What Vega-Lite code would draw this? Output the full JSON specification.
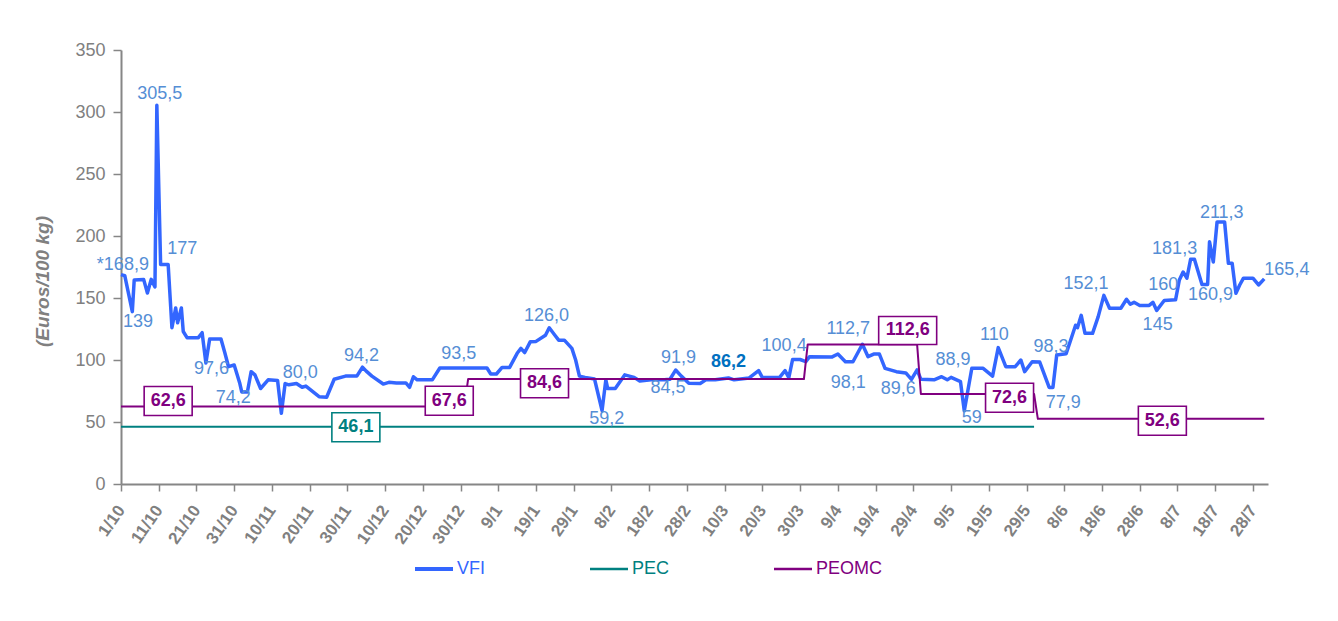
{
  "$schema": "https://vega.github.io/schema/vega-lite/v6.json",
  "width": 1147,
  "height": 434,
  "autosize": {"type": "none"},
  "padding": {"left": 121, "top": 50, "right": 70, "bottom": 137},
  "background": "white",
  "config": {"view": {"stroke": null}, "font": "Liberation Sans"},
  "datasets": {
    "lines": [
      {"date": "2008/10/01", "value": 168.9, "series": "VFI"},
      {"date": "2008/10/02", "value": 168, "series": "VFI"},
      {"date": "2008/10/04", "value": 139, "series": "VFI"},
      {"date": "2008/10/04 12:00", "value": 164.5, "series": "VFI"},
      {"date": "2008/10/07", "value": 165, "series": "VFI"},
      {"date": "2008/10/08", "value": 154, "series": "VFI"},
      {"date": "2008/10/09", "value": 165, "series": "VFI"},
      {"date": "2008/10/10", "value": 159, "series": "VFI"},
      {"date": "2008/10/10 12:00", "value": 305.5, "series": "VFI"},
      {"date": "2008/10/11 12:00", "value": 177, "series": "VFI"},
      {"date": "2008/10/13 12:00", "value": 177, "series": "VFI"},
      {"date": "2008/10/14 12:00", "value": 126, "series": "VFI"},
      {"date": "2008/10/15 12:00", "value": 142, "series": "VFI"},
      {"date": "2008/10/16", "value": 130, "series": "VFI"},
      {"date": "2008/10/17", "value": 142, "series": "VFI"},
      {"date": "2008/10/17 12:00", "value": 123, "series": "VFI"},
      {"date": "2008/10/18 12:00", "value": 118, "series": "VFI"},
      {"date": "2008/10/21 12:00", "value": 118, "series": "VFI"},
      {"date": "2008/10/22 12:00", "value": 122, "series": "VFI"},
      {"date": "2008/10/23 12:00", "value": 97.6, "series": "VFI"},
      {"date": "2008/10/24 12:00", "value": 117, "series": "VFI"},
      {"date": "2008/10/27 12:00", "value": 117, "series": "VFI"},
      {"date": "2008/10/28 12:00", "value": 106, "series": "VFI"},
      {"date": "2008/10/29 12:00", "value": 94.6, "series": "VFI"},
      {"date": "2008/10/31", "value": 96, "series": "VFI"},
      {"date": "2008/11/01 12:00", "value": 81, "series": "VFI"},
      {"date": "2008/11/02", "value": 74.2, "series": "VFI"},
      {"date": "2008/11/03 12:00", "value": 74.2, "series": "VFI"},
      {"date": "2008/11/04 12:00", "value": 90.6, "series": "VFI"},
      {"date": "2008/11/05 12:00", "value": 88, "series": "VFI"},
      {"date": "2008/11/07", "value": 77, "series": "VFI"},
      {"date": "2008/11/09", "value": 84, "series": "VFI"},
      {"date": "2008/11/11 12:00", "value": 83.5, "series": "VFI"},
      {"date": "2008/11/12 12:00", "value": 57, "series": "VFI"},
      {"date": "2008/11/13 12:00", "value": 81, "series": "VFI"},
      {"date": "2008/11/14 12:00", "value": 80, "series": "VFI"},
      {"date": "2008/11/16 12:00", "value": 81, "series": "VFI"},
      {"date": "2008/11/18", "value": 78, "series": "VFI"},
      {"date": "2008/11/19", "value": 79, "series": "VFI"},
      {"date": "2008/11/22 12:00", "value": 70.4, "series": "VFI"},
      {"date": "2008/11/24 12:00", "value": 70, "series": "VFI"},
      {"date": "2008/11/26 12:00", "value": 84.5, "series": "VFI"},
      {"date": "2008/11/29 12:00", "value": 87, "series": "VFI"},
      {"date": "2008/12/02 12:00", "value": 87, "series": "VFI"},
      {"date": "2008/12/04", "value": 94.2, "series": "VFI"},
      {"date": "2008/12/05", "value": 91, "series": "VFI"},
      {"date": "2008/12/06 12:00", "value": 87, "series": "VFI"},
      {"date": "2008/12/09 12:00", "value": 80.6, "series": "VFI"},
      {"date": "2008/12/11", "value": 82, "series": "VFI"},
      {"date": "2008/12/13", "value": 81.5, "series": "VFI"},
      {"date": "2008/12/15 12:00", "value": 81.5, "series": "VFI"},
      {"date": "2008/12/16 12:00", "value": 78, "series": "VFI"},
      {"date": "2008/12/17 12:00", "value": 86.5, "series": "VFI"},
      {"date": "2008/12/18 12:00", "value": 84, "series": "VFI"},
      {"date": "2008/12/22 12:00", "value": 84, "series": "VFI"},
      {"date": "2008/12/24 12:00", "value": 93.5, "series": "VFI"},
      {"date": "2009/01/06", "value": 93.5, "series": "VFI"},
      {"date": "2009/01/07", "value": 88.7, "series": "VFI"},
      {"date": "2009/01/08 12:00", "value": 88.7, "series": "VFI"},
      {"date": "2009/01/10", "value": 94, "series": "VFI"},
      {"date": "2009/01/12", "value": 94, "series": "VFI"},
      {"date": "2009/01/14", "value": 105.4, "series": "VFI"},
      {"date": "2009/01/15", "value": 109.4, "series": "VFI"},
      {"date": "2009/01/16", "value": 106, "series": "VFI"},
      {"date": "2009/01/17 12:00", "value": 114.8, "series": "VFI"},
      {"date": "2009/01/19", "value": 115, "series": "VFI"},
      {"date": "2009/01/21 12:00", "value": 120, "series": "VFI"},
      {"date": "2009/01/22 12:00", "value": 126, "series": "VFI"},
      {"date": "2009/01/24", "value": 120, "series": "VFI"},
      {"date": "2009/01/25", "value": 116, "series": "VFI"},
      {"date": "2009/01/26 12:00", "value": 116, "series": "VFI"},
      {"date": "2009/01/28 12:00", "value": 109.4, "series": "VFI"},
      {"date": "2009/01/29 12:00", "value": 100, "series": "VFI"},
      {"date": "2009/01/30 12:00", "value": 87, "series": "VFI"},
      {"date": "2009/02/01", "value": 86, "series": "VFI"},
      {"date": "2009/02/03 12:00", "value": 84.7, "series": "VFI"},
      {"date": "2009/02/05 12:00", "value": 59.2, "series": "VFI"},
      {"date": "2009/02/06 12:00", "value": 84, "series": "VFI"},
      {"date": "2009/02/07", "value": 77, "series": "VFI"},
      {"date": "2009/02/09", "value": 77, "series": "VFI"},
      {"date": "2009/02/11 12:00", "value": 88, "series": "VFI"},
      {"date": "2009/02/14", "value": 86, "series": "VFI"},
      {"date": "2009/02/15 12:00", "value": 83, "series": "VFI"},
      {"date": "2009/02/18 12:00", "value": 84, "series": "VFI"},
      {"date": "2009/02/22", "value": 84, "series": "VFI"},
      {"date": "2009/02/23 12:00", "value": 84.5, "series": "VFI"},
      {"date": "2009/02/25", "value": 91.9, "series": "VFI"},
      {"date": "2009/02/26 12:00", "value": 87, "series": "VFI"},
      {"date": "2009/02/28 12:00", "value": 81.2, "series": "VFI"},
      {"date": "2009/03/03 12:00", "value": 81, "series": "VFI"},
      {"date": "2009/03/05", "value": 84, "series": "VFI"},
      {"date": "2009/03/07 12:00", "value": 84, "series": "VFI"},
      {"date": "2009/03/11", "value": 85.5, "series": "VFI"},
      {"date": "2009/03/12 12:00", "value": 84, "series": "VFI"},
      {"date": "2009/03/16 12:00", "value": 85.5, "series": "VFI"},
      {"date": "2009/03/19", "value": 91.4, "series": "VFI"},
      {"date": "2009/03/20", "value": 85.8, "series": "VFI"},
      {"date": "2009/03/24 12:00", "value": 85.8, "series": "VFI"},
      {"date": "2009/03/26", "value": 91.4, "series": "VFI"},
      {"date": "2009/03/27", "value": 85.8, "series": "VFI"},
      {"date": "2009/03/28", "value": 100.4, "series": "VFI"},
      {"date": "2009/03/30", "value": 100.4, "series": "VFI"},
      {"date": "2009/03/31 12:00", "value": 98.7, "series": "VFI"},
      {"date": "2009/04/01 12:00", "value": 102.7, "series": "VFI"},
      {"date": "2009/04/07 12:00", "value": 102.5, "series": "VFI"},
      {"date": "2009/04/09", "value": 104.8, "series": "VFI"},
      {"date": "2009/04/11", "value": 98.6, "series": "VFI"},
      {"date": "2009/04/13", "value": 98.6, "series": "VFI"},
      {"date": "2009/04/15 12:00", "value": 112.7, "series": "VFI"},
      {"date": "2009/04/17", "value": 102.7, "series": "VFI"},
      {"date": "2009/04/18 12:00", "value": 104.8, "series": "VFI"},
      {"date": "2009/04/20", "value": 104.8, "series": "VFI"},
      {"date": "2009/04/21 12:00", "value": 93.3, "series": "VFI"},
      {"date": "2009/04/24 12:00", "value": 90.6, "series": "VFI"},
      {"date": "2009/04/27", "value": 89.6, "series": "VFI"},
      {"date": "2009/04/28 12:00", "value": 84.4, "series": "VFI"},
      {"date": "2009/04/30", "value": 92, "series": "VFI"},
      {"date": "2009/05/01", "value": 84.4, "series": "VFI"},
      {"date": "2009/05/04 12:00", "value": 84, "series": "VFI"},
      {"date": "2009/05/06 12:00", "value": 86.5, "series": "VFI"},
      {"date": "2009/05/08", "value": 84, "series": "VFI"},
      {"date": "2009/05/09", "value": 86, "series": "VFI"},
      {"date": "2009/05/11 12:00", "value": 82.5, "series": "VFI"},
      {"date": "2009/05/12 12:00", "value": 59, "series": "VFI"},
      {"date": "2009/05/14 12:00", "value": 93.3, "series": "VFI"},
      {"date": "2009/05/17 12:00", "value": 93.3, "series": "VFI"},
      {"date": "2009/05/20", "value": 87, "series": "VFI"},
      {"date": "2009/05/21 12:00", "value": 110, "series": "VFI"},
      {"date": "2009/05/23 12:00", "value": 94.6, "series": "VFI"},
      {"date": "2009/05/26", "value": 94.6, "series": "VFI"},
      {"date": "2009/05/27 12:00", "value": 100, "series": "VFI"},
      {"date": "2009/05/28 12:00", "value": 90.6, "series": "VFI"},
      {"date": "2009/05/30 12:00", "value": 98.6, "series": "VFI"},
      {"date": "2009/06/01 12:00", "value": 98.3, "series": "VFI"},
      {"date": "2009/06/04", "value": 77.9, "series": "VFI"},
      {"date": "2009/06/05", "value": 77.9, "series": "VFI"},
      {"date": "2009/06/06", "value": 104, "series": "VFI"},
      {"date": "2009/06/08 12:00", "value": 105, "series": "VFI"},
      {"date": "2009/06/11", "value": 128, "series": "VFI"},
      {"date": "2009/06/11 12:00", "value": 126, "series": "VFI"},
      {"date": "2009/06/12 12:00", "value": 136, "series": "VFI"},
      {"date": "2009/06/13 12:00", "value": 121.5, "series": "VFI"},
      {"date": "2009/06/15 12:00", "value": 121.5, "series": "VFI"},
      {"date": "2009/06/17", "value": 135, "series": "VFI"},
      {"date": "2009/06/18 12:00", "value": 152.1, "series": "VFI"},
      {"date": "2009/06/20", "value": 141.7, "series": "VFI"},
      {"date": "2009/06/23", "value": 141.7, "series": "VFI"},
      {"date": "2009/06/24 12:00", "value": 149, "series": "VFI"},
      {"date": "2009/06/25 12:00", "value": 145, "series": "VFI"},
      {"date": "2009/06/26 12:00", "value": 146.5, "series": "VFI"},
      {"date": "2009/06/28", "value": 144, "series": "VFI"},
      {"date": "2009/06/30 12:00", "value": 144, "series": "VFI"},
      {"date": "2009/07/01 12:00", "value": 146.5, "series": "VFI"},
      {"date": "2009/07/02 12:00", "value": 140, "series": "VFI"},
      {"date": "2009/07/04 12:00", "value": 148, "series": "VFI"},
      {"date": "2009/07/07 12:00", "value": 148.5, "series": "VFI"},
      {"date": "2009/07/08 12:00", "value": 164.5, "series": "VFI"},
      {"date": "2009/07/09 12:00", "value": 171, "series": "VFI"},
      {"date": "2009/07/10 12:00", "value": 166, "series": "VFI"},
      {"date": "2009/07/11 12:00", "value": 181.3, "series": "VFI"},
      {"date": "2009/07/12 12:00", "value": 181.3, "series": "VFI"},
      {"date": "2009/07/14 12:00", "value": 160.9, "series": "VFI"},
      {"date": "2009/07/16", "value": 160.9, "series": "VFI"},
      {"date": "2009/07/16 12:00", "value": 195.4, "series": "VFI"},
      {"date": "2009/07/17 12:00", "value": 179, "series": "VFI"},
      {"date": "2009/07/18 12:00", "value": 211.3, "series": "VFI"},
      {"date": "2009/07/20 12:00", "value": 211.3, "series": "VFI"},
      {"date": "2009/07/21 12:00", "value": 178, "series": "VFI"},
      {"date": "2009/07/22 12:00", "value": 178, "series": "VFI"},
      {"date": "2009/07/23 12:00", "value": 153.8, "series": "VFI"},
      {"date": "2009/07/24 12:00", "value": 160.5, "series": "VFI"},
      {"date": "2009/07/25 12:00", "value": 166, "series": "VFI"},
      {"date": "2009/07/28", "value": 166, "series": "VFI"},
      {"date": "2009/07/29 12:00", "value": 160.5, "series": "VFI"},
      {"date": "2009/07/31", "value": 165.4, "series": "VFI"},
      {"date": "2008/10/01", "value": 46.1, "series": "PEC"},
      {"date": "2009/05/31", "value": 46.1, "series": "PEC"},
      {"date": "2008/10/01", "value": 62.6, "series": "PEOMC"},
      {"date": "2008/12/31", "value": 62.6, "series": "PEOMC"},
      {"date": "2009/01/01", "value": 84.6, "series": "PEOMC"},
      {"date": "2009/03/31", "value": 84.6, "series": "PEOMC"},
      {"date": "2009/04/01", "value": 112.6, "series": "PEOMC"},
      {"date": "2009/04/30", "value": 112.6, "series": "PEOMC"},
      {"date": "2009/05/01", "value": 72.6, "series": "PEOMC"},
      {"date": "2009/05/31", "value": 72.6, "series": "PEOMC"},
      {"date": "2009/06/01", "value": 52.6, "series": "PEOMC"},
      {"date": "2009/07/31", "value": 52.6, "series": "PEOMC"}
    ],
    "labels": [
      {"date": "2008/10/01 12:00", "value": 176.6, "label": "*168,9", "series": "VFI"},
      {"date": "2008/10/11 06:00", "value": 314.5, "label": "305,5", "series": "VFI"},
      {"date": "2008/10/17 06:00", "value": 189.5, "label": "177", "series": "VFI"},
      {"date": "2008/10/05 12:00", "value": 131, "label": "139", "series": "VFI"},
      {"date": "2008/10/25", "value": 92.7, "label": "97,6", "series": "VFI"},
      {"date": "2008/10/30 18:00", "value": 69.3, "label": "74,2", "series": "VFI"},
      {"date": "2008/11/17 12:00", "value": 89.3, "label": "80,0", "series": "VFI"},
      {"date": "2008/12/03 18:00", "value": 103, "label": "94,2", "series": "VFI"},
      {"date": "2008/12/29 12:00", "value": 104.8, "label": "93,5", "series": "VFI"},
      {"date": "2009/01/21 18:00", "value": 135.5, "label": "126,0", "series": "VFI"},
      {"date": "2009/02/06 18:00", "value": 52.4, "label": "59,2", "series": "VFI"},
      {"date": "2009/02/25 18:00", "value": 102, "label": "91,9", "series": "VFI"},
      {"date": "2009/02/23", "value": 77.2, "label": "84,5", "series": "VFI"},
      {"date": "2009/03/11", "value": 98, "label": "86,2", "series": "VFI"},
      {"date": "2009/03/25 18:00", "value": 111.5, "label": "100,4", "series": "VFI"},
      {"date": "2009/04/11 18:00", "value": 124.8, "label": "112,7", "series": "VFI"},
      {"date": "2009/04/11 18:00", "value": 81.2, "label": "98,1", "series": "VFI"},
      {"date": "2009/04/25", "value": 76.5, "label": "89,6", "series": "VFI"},
      {"date": "2009/05/09 12:00", "value": 100, "label": "88,9", "series": "VFI"},
      {"date": "2009/05/14 12:00", "value": 53.6, "label": "59", "series": "VFI"},
      {"date": "2009/05/20 12:00", "value": 120.2, "label": "110", "series": "VFI"},
      {"date": "2009/06/04 12:00", "value": 110.5, "label": "98,3", "series": "VFI"},
      {"date": "2009/06/07 18:00", "value": 65.7, "label": "77,9", "series": "VFI"},
      {"date": "2009/06/13 18:00", "value": 161.1, "label": "152,1", "series": "VFI"},
      {"date": "2009/07/02 18:00", "value": 128.6, "label": "145", "series": "VFI"},
      {"date": "2009/07/04 06:00", "value": 160.5, "label": "160", "series": "VFI"},
      {"date": "2009/07/07 06:00", "value": 189.4, "label": "181,3", "series": "VFI"},
      {"date": "2009/07/16 18:00", "value": 152.2, "label": "160,9", "series": "VFI"},
      {"date": "2009/07/19 18:00", "value": 218.5, "label": "211,3", "series": "VFI"},
      {"date": "2009/08/06", "value": 172.6, "label": "165,4", "series": "VFI"},
      {"date": "2008/10/13 12:00", "value": 66.9, "label": "62,6", "series": "PEOMC"},
      {"date": "2008/12/27", "value": 67.1, "label": "67,6", "series": "PEOMC"},
      {"date": "2009/01/21 06:00", "value": 81.2, "label": "84,6", "series": "PEOMC"},
      {"date": "2009/04/27 12:00", "value": 123.8, "label": "112,6", "series": "PEOMC"},
      {"date": "2009/05/24 12:00", "value": 69.5, "label": "72,6", "series": "PEOMC"},
      {"date": "2009/07/04", "value": 51, "label": "52,6", "series": "PEOMC"},
      {"date": "2008/12/02 06:00", "value": 45.8, "label": "46,1", "series": "PEC"}
    ]
  },
  "encoding": {
    "x": {
      "field": "date",
      "type": "temporal",
      "scale": {"domain": [{"year": 2008, "month": 10, "date": 1}, {"year": 2009, "month": 8, "date": 1}]},
      "axis": {
        "title": null,
        "grid": false,
        "values": [
          {"year": 2008, "month": 10, "date": 1}, {"year": 2008, "month": 10, "date": 11}, {"year": 2008, "month": 10, "date": 21}, {"year": 2008, "month": 10, "date": 31},
          {"year": 2008, "month": 11, "date": 10}, {"year": 2008, "month": 11, "date": 20}, {"year": 2008, "month": 11, "date": 30},
          {"year": 2008, "month": 12, "date": 10}, {"year": 2008, "month": 12, "date": 20}, {"year": 2008, "month": 12, "date": 30},
          {"year": 2009, "month": 1, "date": 9}, {"year": 2009, "month": 1, "date": 19}, {"year": 2009, "month": 1, "date": 29},
          {"year": 2009, "month": 2, "date": 8}, {"year": 2009, "month": 2, "date": 18}, {"year": 2009, "month": 2, "date": 28},
          {"year": 2009, "month": 3, "date": 10}, {"year": 2009, "month": 3, "date": 20}, {"year": 2009, "month": 3, "date": 30},
          {"year": 2009, "month": 4, "date": 9}, {"year": 2009, "month": 4, "date": 19}, {"year": 2009, "month": 4, "date": 29},
          {"year": 2009, "month": 5, "date": 9}, {"year": 2009, "month": 5, "date": 19}, {"year": 2009, "month": 5, "date": 29},
          {"year": 2009, "month": 6, "date": 8}, {"year": 2009, "month": 6, "date": 18}, {"year": 2009, "month": 6, "date": 28},
          {"year": 2009, "month": 7, "date": 8}, {"year": 2009, "month": 7, "date": 18}, {"year": 2009, "month": 7, "date": 28}
        ],
        "format": "%-d/%-m",
        "labelAngle": -55,
        "labelFontSize": 17,
        "labelFontWeight": "bold",
        "labelColor": "#808080",
        "labelFont": "Liberation Sans",
        "labelOverlap": false,
        "labelFlush": false,
        "labelPadding": 16,
        "tickSize": 7,
        "tickWidth": 1.5,
        "tickColor": "#868686",
        "domainColor": "#868686",
        "domainWidth": 2
      }
    },
    "y": {
      "field": "value",
      "type": "quantitative",
      "scale": {"domain": [0, 350], "nice": false},
      "axis": {
        "title": "(Euros/100 kg)",
        "grid": false,
        "values": [0, 50, 100, 150, 200, 250, 300, 350],
        "labelFontSize": 18,
        "labelColor": "#808080",
        "labelFont": "Liberation Sans",
        "labelPadding": 8,
        "tickSize": 8,
        "tickWidth": 1.5,
        "tickColor": "#868686",
        "domainColor": "#868686",
        "domainWidth": 2,
        "titleFont": "Liberation Sans",
        "titleFontSize": 19,
        "titleFontStyle": "italic",
        "titleFontWeight": "bold",
        "titleColor": "#808080",
        "titleAngle": 270,
        "titleAlign": "center",
        "titleBaseline": "middle",
        "titleX": -79,
        "titleY": 231
      }
    }
  },
  "layer": [
    {
      "data": {"name": "lines"},
      "mark": {"type": "line", "strokeJoin": "round"},
      "encoding": {
        "color": {
          "field": "series",
          "type": "nominal",
          "scale": {"domain": ["VFI", "PEC", "PEOMC"], "range": ["#3366FF", "#008080", "#800080"]},
          "legend": {
            "orient": "none",
            "legendX": 304,
            "legendY": 510,
            "direction": "horizontal",
            "title": null,
            "symbolType": "stroke",
            "symbolSize": 1444,
            "symbolStrokeWidth": 3,
            "labelFontSize": 18,
            "labelFont": "Liberation Sans",
            "labelOffset": 14,
            "columnPadding": 99,
            "encode": {
              "labels": {"update": {"fill": {"scale": "color", "field": "value"}}},
              "symbols": {"update": {"strokeWidth": {"signal": "datum.value === 'VFI' ? 4 : 2.5"}}}
            }
          }
        },
        "strokeWidth": {"condition": {"test": "datum.series === 'VFI'", "value": 3.5}, "value": 2}
      }
    },
    {
      "data": {"name": "labels"},
      "transform": [{"filter": "datum.series !== 'VFI'"}],
      "mark": {"type": "point", "filled": true, "fill": "white", "strokeWidth": 1.6, "opacity": 1},
      "encoding": {
        "shape": {"condition": {"test": "length(datum.label) > 4", "value": "M-1,-0.483H1V0.483H-1Z"}, "value": "M-1,-0.604H1V0.604H-1Z"},
        "size": {"condition": {"test": "length(datum.label) > 4", "value": 3364}, "value": 2304},
        "stroke": {"condition": {"test": "datum.series === 'PEC'", "value": "#008080"}, "value": "#800080"}
      }
    },
    {
      "data": {"name": "labels"},
      "transform": [{"filter": "datum.series !== 'VFI'"}],
      "mark": {"type": "text", "font": "Liberation Sans", "fontSize": 18, "fontWeight": "bold", "align": "center", "baseline": "middle"},
      "encoding": {
        "text": {"field": "label"},
        "color": {"condition": {"test": "datum.series === 'PEC'", "value": "#008080"}, "value": "#800080"}
      }
    },
    {
      "data": {"name": "labels"},
      "transform": [{"filter": "datum.series === 'VFI' && datum.label !== '86,2'"}],
      "mark": {"type": "text", "font": "Liberation Sans", "fontSize": 18, "align": "center", "baseline": "middle", "color": "#558ED5"},
      "encoding": {"text": {"field": "label"}}
    },
    {
      "data": {"name": "labels"},
      "transform": [{"filter": "datum.label === '86,2'"}],
      "mark": {"type": "text", "font": "Liberation Sans", "fontSize": 18, "fontWeight": "bold", "align": "center", "baseline": "middle", "color": "#0070C0"},
      "encoding": {"text": {"field": "label"}}
    }
  ]
}
